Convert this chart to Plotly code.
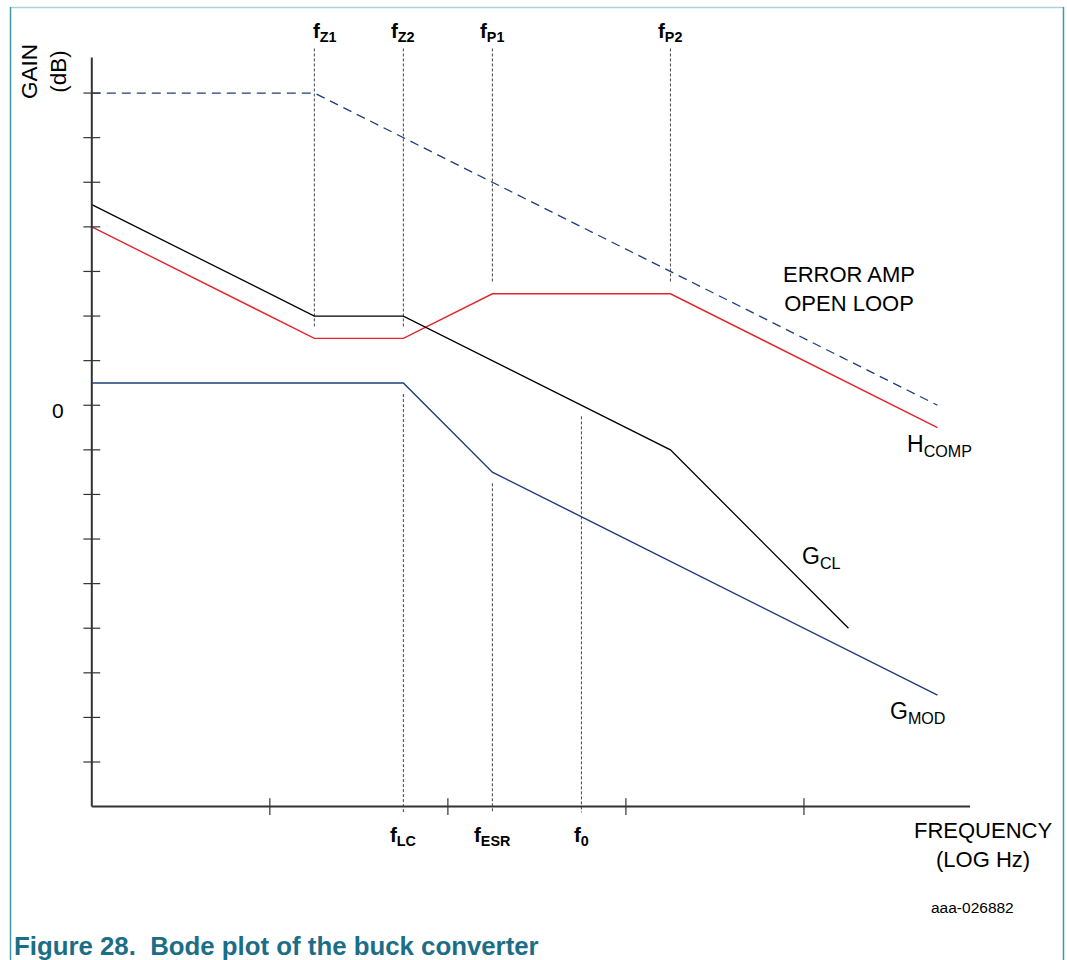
import plotly.graph_objects as go

# ---------------- data (x = log10 frequency in decades, y = gain in dB) ----------------
ERR_X = [0, 1.25, 4.75]
ERR_Y = [70, 70, 0]

HCOMP_X = [0, 1.25, 1.75, 2.25, 3.25, 4.75]
HCOMP_Y = [40, 15, 15, 25, 25, -5]

GCL_X = [0, 1.25, 1.75, 3.25, 4.25]
GCL_Y = [45, 20, 20, -10, -50]

GMOD_X = [0, 1.75, 2.25, 4.75]
GMOD_Y = [5, 5, -15, -65]

# corner-frequency markers (top row) and (bottom row)
TOP_NAMES = ["f<sub>Z1</sub>", "f<sub>Z2</sub>", "f<sub>P1</sub>", "f<sub>P2</sub>"]
TOP_X = [1.25, 1.75, 2.25, 3.25]
TOP_LABEL_X = [1.31, 1.75, 2.25, 3.25]
TOP_END = [17.5, 17.5, 27.5, 27.5]
BOT_NAMES = ["f<sub>LC</sub>", "f<sub>ESR</sub>", "f<sub>0</sub>"]
BOT_X = [1.75, 2.25, 2.75]
BOT_END = [2.5, -17.5, -2.5]

Y_TICKS = [-80, -70, -60, -50, -40, -30, -20, -10, 0, 10, 20, 30, 40, 50, 60, 70]
X_TICKS = [1, 2, 3, 4]

Y_MIN, Y_MAX = -90, 78
X_MIN, X_MAX = 0, 4.933
GUIDE_TOP = 80
GUIDE_BOTTOM = -91.3

# ---------------- styling ----------------
FONT = "Liberation Sans, Arial, sans-serif"
RED = "#e3242b"
NAVY = "#1f3d7a"
AXIS = "#333333"
GUIDE = "#444444"
TEAL = "#3a9aaa"
TEAL_LIGHT = "#a9d3da"
CAPTION = "#1b6e86"

L, R, T, B = 74, 85, 44, 140
W, H = 1067, 960
PW, PH = W - L - R, H - T - B


def px_x(px):
    return (px - L) / PW


def px_y(py):
    return (H - B - py) / PH


fig = go.Figure()

# guide lines (dotted verticals)
for x, end in zip(TOP_X, TOP_END):
    fig.add_trace(go.Scatter(x=[x, x], y=[GUIDE_TOP, end], mode="lines",
                             line=dict(color=GUIDE, width=1, dash="3px,2px"),
                             hoverinfo="skip", showlegend=False))
for x, end in zip(BOT_X, BOT_END):
    fig.add_trace(go.Scatter(x=[x, x], y=[end, GUIDE_BOTTOM], mode="lines",
                             line=dict(color=GUIDE, width=1, dash="3px,2px"),
                             hoverinfo="skip", showlegend=False))

# curves
fig.add_trace(go.Scatter(x=ERR_X, y=ERR_Y, mode="lines", name="ERROR AMP OPEN LOOP",
                         line=dict(color=NAVY, width=1.3, dash="9px,6px")))
fig.add_trace(go.Scatter(x=HCOMP_X, y=HCOMP_Y, mode="lines", name="HCOMP",
                         line=dict(color=RED, width=1.4)))
fig.add_trace(go.Scatter(x=GCL_X, y=GCL_Y, mode="lines", name="GCL",
                         line=dict(color="#000000", width=1.3)))
fig.add_trace(go.Scatter(x=GMOD_X, y=GMOD_Y, mode="lines", name="GMOD",
                         line=dict(color=NAVY, width=1.4)))

# crossing tick marks
fig.add_trace(go.Scatter(x=[X_MIN] * len(Y_TICKS), y=Y_TICKS, mode="markers",
                         marker=dict(symbol="line-ew", size=12,
                                     line=dict(color=AXIS, width=1.2)),
                         cliponaxis=False, hoverinfo="skip", showlegend=False))
fig.add_trace(go.Scatter(x=X_TICKS, y=[Y_MIN] * len(X_TICKS), mode="markers",
                         marker=dict(symbol="line-ns", size=12,
                                     line=dict(color=AXIS, width=1.2)),
                         cliponaxis=False, hoverinfo="skip", showlegend=False))

shapes = [
    # axis lines
    dict(type="line", xref="x", yref="y", x0=X_MIN, x1=X_MIN, y0=Y_MIN, y1=Y_MAX,
         line=dict(color=AXIS, width=2)),
    dict(type="line", xref="x", yref="y", x0=X_MIN, x1=X_MAX, y0=Y_MIN, y1=Y_MIN,
         line=dict(color=AXIS, width=2)),
    # frame
    dict(type="line", xref="paper", yref="paper", x0=px_x(10), x1=px_x(1064),
         y0=px_y(7.5), y1=px_y(7.5), line=dict(color=TEAL_LIGHT, width=1.5)),
    dict(type="line", xref="paper", yref="paper", x0=px_x(10.5), x1=px_x(10.5),
         y0=px_y(7), y1=px_y(960), line=dict(color=TEAL, width=1.5)),
    dict(type="line", xref="paper", yref="paper", x0=px_x(1063.5), x1=px_x(1063.5),
         y0=px_y(7), y1=px_y(960), line=dict(color=TEAL, width=1.5)),
]


def label(x, y, text, size, xref="paper", yref="paper", **kw):
    d = dict(x=x, y=y, xref=xref, yref=yref, text=text, showarrow=False,
             xanchor="center", yanchor="middle", font=dict(size=size, color="#000"))
    d.update(kw)
    return d


ann = []
for name, x in zip(TOP_NAMES, TOP_LABEL_X):
    ann.append(label(x, px_y(32), "<b>" + name + "</b>", 20.5, xref="x"))
for name, x in zip(BOT_NAMES, BOT_X):
    ann.append(label(x, px_y(836), "<b>" + name + "</b>", 20.5, xref="x"))

ann += [
    label(4.253, 26.1, "ERROR AMP<br>OPEN LOOP", 22, xref="x", yref="y", align="center"),
    label(4.76, -9.0, "H<sub>COMP</sub>", 23, xref="x", yref="y"),
    label(4.10, -34.2, "G<sub>CL</sub>", 23, xref="x", yref="y"),
    label(4.64, -69.0, "G<sub>MOD</sub>", 23, xref="x", yref="y"),
    label(px_x(58), px_y(410), "0", 21),
    label(px_x(44), px_y(72), "GAIN<br>(dB)", 22.5, textangle=-90, align="center"),
    label(px_x(983), px_y(845), "FREQUENCY<br>(LOG Hz)", 22, align="center"),
    label(px_x(972), px_y(907), "aaa-026882", 15.5),
    dict(x=px_x(12), y=px_y(946), xref="paper", yref="paper", xanchor="left",
         yanchor="middle",
         text="<b>Figure 28.&nbsp;&nbsp;Bode plot of the buck converter</b>",
         showarrow=False, font=dict(size=25.8, color=CAPTION)),
]

fig.update_layout(
    width=W, height=H,
    margin=dict(l=L, r=R, t=T, b=B),
    paper_bgcolor="white", plot_bgcolor="white",
    font=dict(family=FONT, color="#000"),
    showlegend=False,
    xaxis=dict(range=[-0.1, 5.0], visible=False, fixedrange=True),
    yaxis=dict(range=[-93, 81], visible=False, fixedrange=True),
    shapes=shapes,
    annotations=ann,
)

fig.write_html("out.html")
